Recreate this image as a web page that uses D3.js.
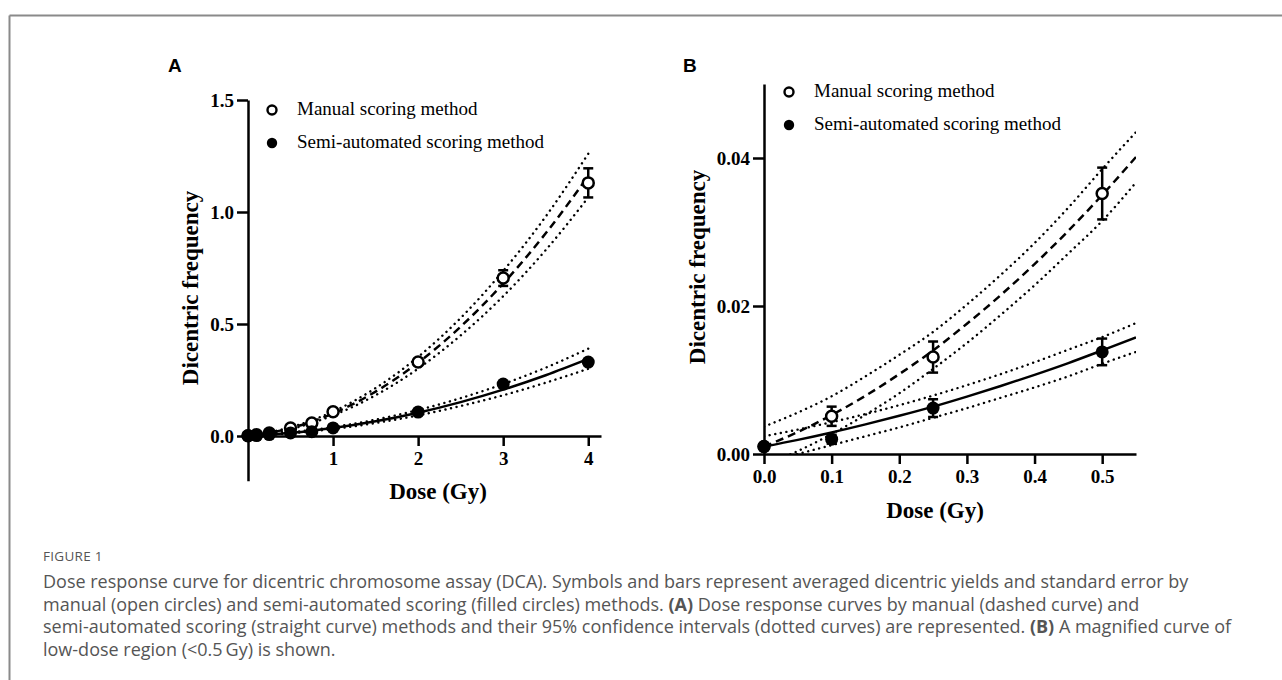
<!DOCTYPE html>
<html lang="en">
<head>
<meta charset="UTF-8"/>
<title>Dose response curve - dicentric chromosome assay</title>
<script src="https://d3js.org/d3.v7.min.js"></script>
<style>
  body { margin: 0; background: #fff; }
  svg { display: block; }
  .tick text { font-family: "Liberation Serif", "Times New Roman", serif; font-weight: bold; font-size: 19px; fill: #000; }
  .axis path, .axis line { stroke: #000; stroke-width: 2.5; }
  .label { font-family: "Liberation Serif", "Times New Roman", serif; font-weight: bold; font-size: 23px; }
  .legend { font-family: "Liberation Serif", "Times New Roman", serif; font-size: 19px; }
  .panel { font-family: "Liberation Sans", Arial, sans-serif; font-weight: bold; font-size: 19px; }
  .caption { font-family: "Open Sans", sans-serif; fill: #555; }
</style>
</head>
<body>
<svg width="1282" height="680"></svg>
<script>
// measured points (mean dicentric frequency +/- SE)
const doses = [0, 0.1, 0.25, 0.5, 0.75, 1, 2, 3, 4];
const manualMean = [0.001, 0.0051, 0.0131, 0.0352, 0.058, 0.108, 0.33, 0.705, 1.13];
const manualSE = [0.0003, 0.0013, 0.0021, 0.0035, 0.005, 0.007, 0.012, 0.035, 0.065];
const semiMean = [0.001, 0.002, 0.0062, 0.0138, 0.019, 0.036, 0.107, 0.232, 0.33];
const semiSE = [0.0002, 0.0006, 0.0012, 0.0018, 0.003, 0.004, 0.006, 0.008, 0.01];

// fitted curves
const curveDoseA = [0, 0.25, 0.5, 0.75, 1, 1.5, 2, 2.5, 3, 3.5, 4];
const manualFitA = [0.001, 0.014, 0.035, 0.0639, 0.1007, 0.1982, 0.3272, 0.4881, 0.6805, 0.9048, 1.1606];
const manualUpA = [0.0037, 0.017, 0.039, 0.07, 0.109, 0.214, 0.353, 0.527, 0.737, 0.98, 1.26];
const manualLoA = [-0.0015, 0.0105, 0.031, 0.058, 0.092, 0.182, 0.301, 0.449, 0.624, 0.83, 1.065];
const semiFitA = [0.001, 0.0064, 0.014, 0.0237, 0.0355, 0.0656, 0.1042, 0.1514, 0.2071, 0.2714, 0.3442];
const semiUpA = [0.0024, 0.0085, 0.0165, 0.027, 0.04, 0.073, 0.116, 0.169, 0.232, 0.305, 0.39];
const semiLoA = [-0.0012, 0.0042, 0.0118, 0.021, 0.031, 0.058, 0.092, 0.134, 0.182, 0.238, 0.3];

// fitted curves (low dose)
const curveDoseB = [0, 0.05, 0.1, 0.15, 0.2, 0.25, 0.3, 0.35, 0.4, 0.45, 0.5, 0.55];
const manualFitB = [0.001, 0.00297, 0.00526, 0.00787, 0.0108, 0.014, 0.0176, 0.02147, 0.02566, 0.03017, 0.035, 0.04014];
const manualUpB = [0.0037, 0.0056, 0.0078, 0.0105, 0.0134, 0.0165, 0.0202, 0.0242, 0.0285, 0.0333, 0.0385, 0.0435];
const manualLoB = [-0.0015, 0.0004, 0.0027, 0.0053, 0.0082, 0.0115, 0.015, 0.0188, 0.0228, 0.0271, 0.0315, 0.0367];
const semiFitB = [0.001, 0.00191, 0.00291, 0.004, 0.00516, 0.0064, 0.00776, 0.00919, 0.0107, 0.01229, 0.014, 0.01574];
const semiUpB = [0.0024, 0.0033, 0.0043, 0.0054, 0.0066, 0.0079, 0.0093, 0.0108, 0.0124, 0.0141, 0.0158, 0.0177];
const semiLoB = [-0.0012, 0.0, 0.0012, 0.0024, 0.0036, 0.0049, 0.0062, 0.0076, 0.009, 0.0105, 0.0122, 0.0138];

const legendNames = ['Manual scoring method', 'Semi-automated scoring method'];
const ticksAx = [1, 2, 3, 4];
const ticksAy = [0, 0.5, 1.0, 1.5];
const ticksBx = [0, 0.1, 0.2, 0.3, 0.4, 0.5];
const ticksBy = [0, 0.02, 0.04];

const captionTitle = 'FIGURE 1';
const captionLines = [
  [['Dose response curve for dicentric chromosome assay (DCA). Symbols and bars represent averaged dicentric yields and standard error by', false]],
  [['manual (open circles) and semi-automated scoring (filled circles) methods. ', false], ['(A)', true], [' Dose response curves by manual (dashed curve) and', false]],
  [['semi-automated scoring (straight curve) methods and their 95% confidence intervals (dotted curves) are represented. ', false], ['(B)', true], [' A magnified curve of', false]],
  [['low-dose region (<0.5\u2009Gy) is shown.', false]]
];

const svg = d3.select('svg');

// frame
svg.append('line').attr('x1', 9.5).attr('y1', 15.5).attr('x2', 1282).attr('y2', 15.5)
  .attr('stroke', '#8a8a8a').attr('stroke-width', 2);
svg.append('line').attr('x1', 9.5).attr('y1', 15.5).attr('x2', 9.5).attr('y2', 680)
  .attr('stroke', '#8a8a8a').attr('stroke-width', 2);

function drawPanel(cfg) {
  const g = svg.append('g');
  const x = d3.scaleLinear().domain(cfg.xDomain).range(cfg.xRange);
  const y = d3.scaleLinear().domain(cfg.yDomain).range(cfg.yRange);

  g.append('text').attr('class', 'panel').attr('x', cfg.letterX).attr('y', 72).text(cfg.letter);

  // axes
  g.append('g').attr('class', 'axis')
    .attr('transform', `translate(0,${y(0)})`)
    .call(d3.axisBottom(x).tickValues(cfg.xTicks).tickFormat(cfg.xFmt).tickSize(10).tickSizeOuter(0).tickPadding(6))
    .attr('font-size', null).attr('font-family', null);
  g.append('g').attr('class', 'axis')
    .attr('transform', `translate(${x(0)},0)`)
    .call(d3.axisLeft(y).tickValues(cfg.yTicks).tickFormat(cfg.yFmt).tickSize(11).tickSizeOuter(0).tickPadding(3))
    .attr('font-size', null).attr('font-family', null);

  const clipId = 'clip' + cfg.letter;
  g.append('clipPath').attr('id', clipId).append('rect')
    .attr('x', cfg.xRange[0]).attr('y', y(cfg.yDomain[1]))
    .attr('width', cfg.xRange[1] - cfg.xRange[0])
    .attr('height', y(cfg.clipMin) - y(cfg.yDomain[1]));

  const line = d3.line().x((d, i) => x(cfg.curveDose[i])).y(d => y(d)).curve(d3.curveMonotoneX);
  const curves = g.append('g').attr('clip-path', `url(#${clipId})`).attr('fill', 'none').attr('stroke', '#000');
  [cfg.mUp, cfg.mLo, cfg.sUp, cfg.sLo].forEach(arr => {
    curves.append('path').attr('d', line(arr))
      .attr('stroke-width', 2.4).attr('stroke-linecap', 'round').attr('stroke-dasharray', '0.1 5.6');
  });
  curves.append('path').attr('d', line(cfg.mFit)).attr('stroke-width', 2.5).attr('stroke-dasharray', '8 5');
  curves.append('path').attr('d', line(cfg.sFit)).attr('stroke-width', 2.5);

  // points with error bars
  const idx = doses.map((d, i) => i).filter(i => doses[i] <= cfg.xDomain[1]);
  const series = [
    { mean: manualMean, se: manualSE, open: true },
    { mean: semiMean, se: semiSE, open: false }
  ];
  series.forEach(s => {
    const pg = g.append('g').attr('stroke', '#000').attr('stroke-width', 2.5);
    idx.forEach(i => {
      const cx = x(doses[i]);
      const lo = y(s.mean[i] - s.se[i]), hi = y(s.mean[i] + s.se[i]);
      if (lo - hi > 3) {
        pg.append('line').attr('x1', cx).attr('x2', cx).attr('y1', lo).attr('y2', hi);
        pg.append('line').attr('x1', cx - 5).attr('x2', cx + 5).attr('y1', lo).attr('y2', lo);
        pg.append('line').attr('x1', cx - 5).attr('x2', cx + 5).attr('y1', hi).attr('y2', hi);
      }
      pg.append('circle').attr('cx', cx).attr('cy', y(s.mean[i]))
        .attr('r', s.open ? 5.5 : 6.5)
        .attr('fill', s.open ? '#fff' : '#000')
        .attr('stroke-width', s.open ? 2.5 : 0);
    });
  });

  // legend
  legendNames.forEach((name, i) => {
    const ly = cfg.legendY + i * 33;
    g.append('circle').attr('cx', cfg.legendX).attr('cy', ly - 5)
      .attr('r', i === 0 ? 4.5 : 5.2)
      .attr('fill', i === 0 ? '#fff' : '#000')
      .attr('stroke', '#000').attr('stroke-width', i === 0 ? 2.4 : 0);
    g.append('text').attr('class', 'legend').attr('x', cfg.legendX + 25).attr('y', ly).text(name);
  });

  // axis titles
  g.append('text').attr('class', 'label').attr('text-anchor', 'middle')
    .attr('x', cfg.xLabelX).attr('y', cfg.xLabelY).text('Dose (Gy)');
  g.append('text').attr('class', 'label').attr('text-anchor', 'middle')
    .attr('transform', `translate(${cfg.yLabelX},${cfg.yLabelY}) rotate(-90)`)
    .text('Dicentric frequency');
}

drawPanel({
  letter: 'A', letterX: 168,
  xDomain: [0, 4.15], xRange: [248, 601],
  yDomain: [-0.2, 1.5], yRange: [480.8, 100], clipMin: -0.2,
  xTicks: ticksAx, xFmt: d3.format('d'),
  yTicks: ticksAy, yFmt: d3.format('.1f'),
  curveDose: curveDoseA,
  mFit: manualFitA, mUp: manualUpA, mLo: manualLoA,
  sFit: semiFitA, sUp: semiUpA, sLo: semiLoA,
  legendX: 272, legendY: 115,
  xLabelX: 438, xLabelY: 499,
  yLabelX: 198, yLabelY: 288
});

drawPanel({
  letter: 'B', letterX: 683,
  xDomain: [0, 0.55], xRange: [764, 1136],
  yDomain: [0, 0.05], yRange: [454, 84], clipMin: 0,
  xTicks: ticksBx, xFmt: d3.format('.1f'),
  yTicks: ticksBy, yFmt: d3.format('.2f'),
  curveDose: curveDoseB,
  mFit: manualFitB, mUp: manualUpB, mLo: manualLoB,
  sFit: semiFitB, sUp: semiUpB, sLo: semiLoB,
  legendX: 789, legendY: 97,
  xLabelX: 935, xLabelY: 518,
  yLabelX: 705, yLabelY: 267
});

// caption
const cap = svg.append('g').attr('class', 'caption');
cap.append('text').attr('x', 43).attr('y', 561).attr('font-size', 13.5).attr('letter-spacing', 0.3).text(captionTitle);
captionLines.forEach((parts, i) => {
  const t = cap.append('text').attr('x', 43).attr('y', 588 + i * 22.7).attr('font-size', 18);
  parts.forEach(([txt, bold]) => {
    t.append('tspan').attr('font-weight', bold ? 'bold' : null).text(txt);
  });
});
</script>
</body>
</html>
